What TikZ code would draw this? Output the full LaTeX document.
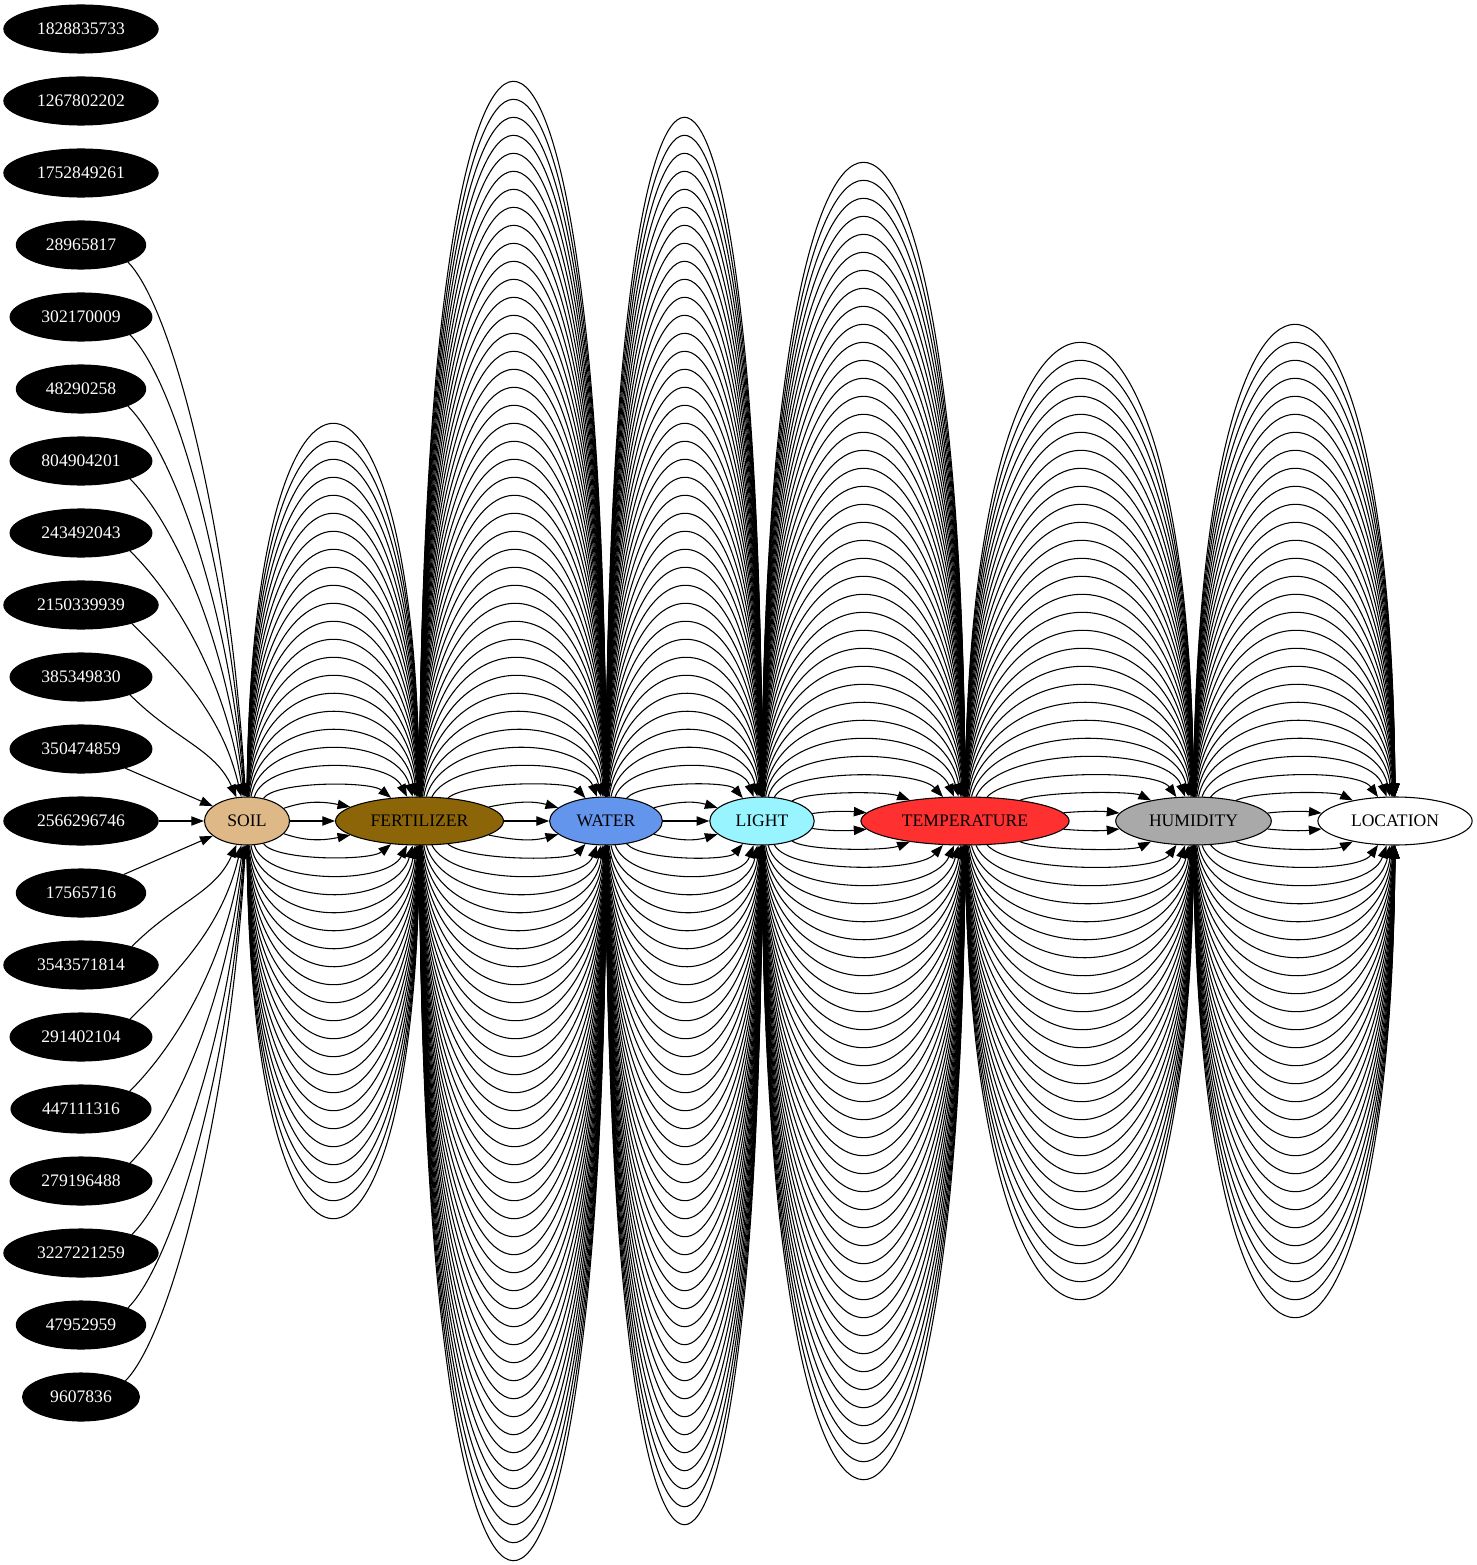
\documentclass[tikz,border=0pt]{standalone}
\usepackage{fontspec}
\setmainfont{Liberation Serif}
\usepackage{tikz}
\usetikzlibrary{shapes.geometric, arrows.meta, positioning, calc}

\tikzset{
  no/.style={ellipse, draw=black, line width=0.8pt, inner xsep=7.9pt, inner ysep=0pt,
    minimum height=36pt, font=\fontsize{13.2}{15}\selectfont},
  numero/.style={no, fill=black, text=white},
  aresta/.style={line width=0.8pt, -{Triangle[length=9.5pt, width=7pt]}},
}

\begin{document}
\begin{tikzpicture}[x=0.75pt, y=-0.75pt]
% --- GRAFO DE FATORES: IDS, CADEIA CENTRAL E ARESTAS MULTIPLAS ---
\definecolor{solo}{HTML}{DEB887}
\definecolor{adubo}{HTML}{8B6508}
\definecolor{agua}{HTML}{6495ED}
\definecolor{luz}{HTML}{98F5FF}
\definecolor{temperatura}{HTML}{FF3030}
\definecolor{umidade}{HTML}{A9A9A9}

\useasboundingbox (0,0) rectangle (1476,1565);

% LAYER 1: Coluna de identificadores
\foreach \i/\lab in {1/1828835733, 2/1267802202, 3/1752849261, 4/28965817, 5/302170009,
    6/48290258, 7/804904201, 8/243492043, 9/2150339939, 10/385349830, 11/350474859,
    12/2566296746, 13/17565716, 14/3543571814, 15/291402104, 16/447111316,
    17/279196488, 18/3227221259, 19/47952959, 20/9607836}
  \node[numero] (n\i) at (81, {29+72*(\i-1)}) {\lab};

% LAYER 2: Cadeia central
\node[no, fill=solo] (soil) at (247,821) {SOIL};
\node[no, fill=adubo] (fert) at (419.5,821) {FERTILIZER};
\node[no, fill=agua] (water) at (606,821) {WATER};
\node[no, fill=luz] (light) at (762,821) {LIGHT};
\node[no, fill=temperatura] (temp) at (965,821) {TEMPERATURE};
\node[no, fill=umidade] (hum) at (1193.5,821) {HUMIDITY};
\node[no, fill=white] (loc) at (1395,821) {LOCATION};

% LAYER 3: Ids ligados ao solo
\foreach \i in {4,...,10} {
  \pgfmathsetmacro{\dy}{72*(12-\i)}
  \draw[aresta] (n\i.-20) .. controls +(45,45) and ($(soil)+({-12-2880/\dy},{-0.5*\dy})$) .. (soil);
}
\foreach \i in {14,...,20} {
  \pgfmathsetmacro{\dy}{72*(\i-12)}
  \draw[aresta] (n\i.20) .. controls +(45,-45) and ($(soil)+({-12-2880/\dy},{0.5*\dy})$) .. (soil);
}
\draw[aresta] (n11) -- (soil);
\draw[aresta] (n12) -- (soil);
\draw[aresta] (n13) -- (soil);

% LAYER 4: Arcos entre vizinhos (origem/destino/distancia/raios/arcos por lado/impar)
\foreach \src/\dst/\dx/\rs/\rd/\m/\odd in {soil/fert/172.5/42/82.5/22/1,
    fert/water/186.5/82.5/56/41/1, water/light/156/56/51/39/1,
    light/temp/203/51/103/37/0, temp/hum/228.5/103/76.5/27/0, hum/loc/201.5/76.5/76/28/0} {
  \ifnum\odd=1 \draw[aresta] (\src) -- (\dst); \fi
  \foreach \k in {1,...,\m} {
    \pgfmathsetmacro{\h}{18*\k-9*(1-\odd)}
    \pgfmathsetmacro{\f}{min(1,18/\h)}
    \pgfmathsetmacro{\gap}{\dx-\rs-\rd}
    \pgfmathsetmacro{\cs}{(\rs+\gap/3)*\f}
    \pgfmathsetmacro{\cd}{(\rd+\gap/3)*\f}
    \pgfmathsetmacro{\cc}{(\h-6*min(1,\h/36))/0.75}
    \draw[aresta] (\src) .. controls ($(\src)+(\cs,-\cc)$) and ($(\dst)+(-\cd,-\cc)$) .. (\dst);
    \draw[aresta] (\src) .. controls ($(\src)+(\cs,\cc)$) and ($(\dst)+(-\cd,\cc)$) .. (\dst);
  }
}
\end{tikzpicture}
\end{document}
